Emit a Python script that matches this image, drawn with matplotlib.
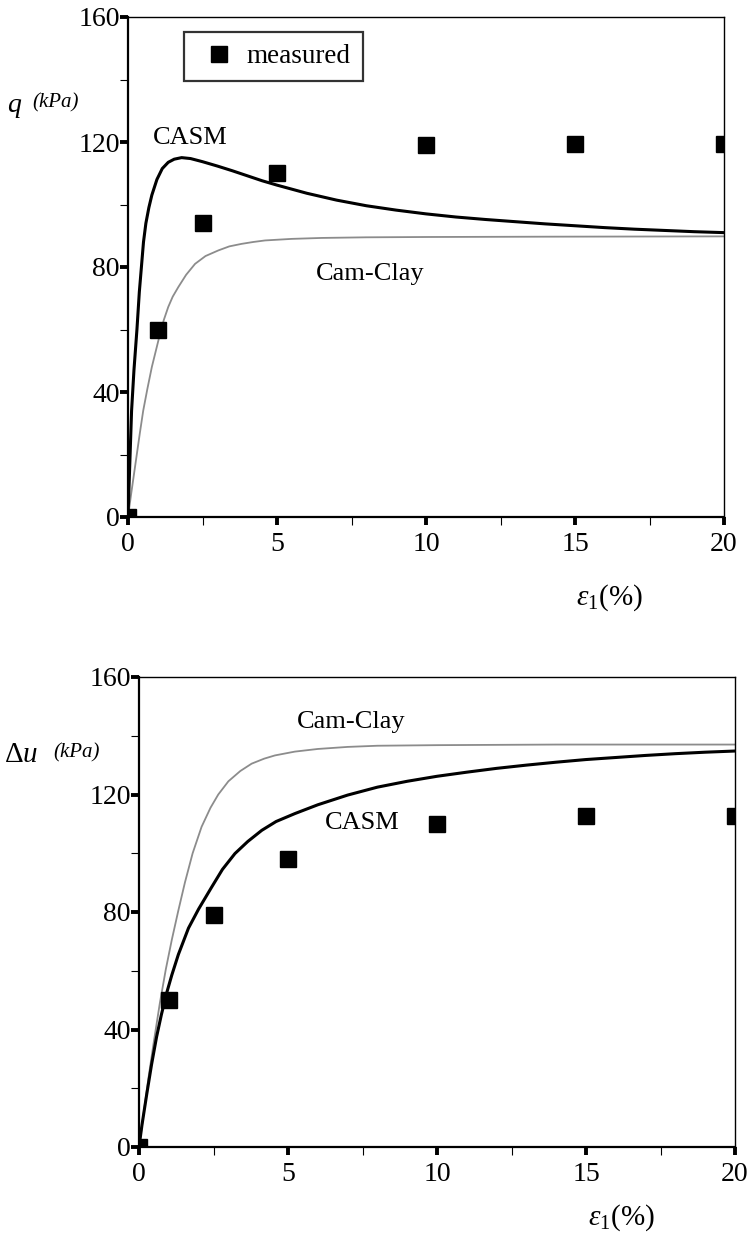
import matplotlib
matplotlib.use("Agg")
import matplotlib.pyplot as plt
from matplotlib.ticker import MultipleLocator

plt.rcParams['font.family'] = ['Liberation Serif', 'DejaVu Serif']
plt.rcParams['mathtext.fontset'] = 'custom'
plt.rcParams['mathtext.rm'] = 'Liberation Serif'
plt.rcParams['mathtext.it'] = 'Liberation Serif:italic'

# ---------------- data ----------------
meas_x = [0, 1, 2.5, 5, 10, 15, 20]
meas_q = [0, 60, 94, 110, 119, 119.5, 119.5]
meas_u = [0, 50, 79, 98, 110, 112.6, 112.6]

casm_q_x = [0, 0.06, 0.12, 0.2, 0.3, 0.38, 0.45, 0.52, 0.6, 0.7, 0.8, 0.97,
            1.15, 1.35, 1.55, 1.8, 2.1, 2.5, 3, 3.5, 4, 4.5, 5, 6, 7, 8, 9,
            10, 11, 12, 13, 14, 15, 16, 17, 18, 19, 20]
casm_q_y = [0, 17, 34, 47, 60, 72, 80, 88, 94, 99, 103, 108,
            111.5, 113.5, 114.5, 115, 114.7, 113.7, 112.3, 110.8, 109.2,
            107.6, 106.2, 103.6, 101.4, 99.6, 98.2,
            97, 96, 95.2, 94.5, 93.8, 93.2, 92.6, 92.1, 91.7, 91.3, 91]

cc_q_x = [0, 0.1, 0.25, 0.4, 0.51, 0.65, 0.8, 1.02, 1.2, 1.35, 1.5, 1.69,
          1.95, 2.25, 2.6, 3.03, 3.4, 3.81, 4.2, 4.6, 5.5, 6.5, 8, 10, 14, 20]
cc_q_y = [0, 7, 17, 27, 34, 41, 48, 56.5, 63, 67.2, 70.5, 73.6,
          77.5, 81, 83.5, 85.3, 86.6, 87.4, 88, 88.5, 89, 89.3, 89.5, 89.6,
          89.7, 89.8]

casm_u_x = [0, 0.1, 0.26, 0.42, 0.59, 0.75, 0.93, 1.1, 1.32, 1.66, 2.0, 2.44,
            2.8, 3.22, 3.65, 4.12, 4.6, 5.23, 6, 7, 8, 9, 10, 11, 12, 13, 14,
            15, 16, 17, 18, 19, 20]
casm_u_y = [0, 7.5, 18, 28, 37.5, 45, 52.5, 58.5, 65.5, 74.5, 81, 88.5,
            94.5, 99.9, 104, 107.8, 110.8, 113.5, 116.5, 119.8, 122.5, 124.5,
            126.2, 127.6, 128.9, 130, 131, 131.9, 132.6, 133.3, 133.9, 134.4,
            134.8]

cc_u_x = [0, 0.15, 0.31, 0.5, 0.7, 0.9, 1.1, 1.32, 1.54, 1.8, 2.1, 2.4, 2.66,
          3.0, 3.4, 3.78, 4.2, 4.56, 5.23, 6, 7, 8, 10, 14, 20]
cc_u_y = [0, 11, 23, 36, 49, 60.5, 70.5, 80.5, 90, 100, 109, 115.5, 120,
          124.5, 128, 130.5, 132.2, 133.3, 134.6, 135.5, 136.2, 136.6,
          136.8, 137, 137]

x_ticks = [0, 5, 10, 15, 20]
y_ticks = [0, 40, 80, 120, 160]

W, H = 752, 1244
fig = plt.figure(figsize=(W / 100, H / 100), dpi=100)


def px_rect(l, t, r, b):
    return [l / W, 1 - b / H, (r - l) / W, (b - t) / H]


def style(ax):
    ax.set_xlim(0, 20)
    ax.set_ylim(0, 160)
    ax.set_xticks(x_ticks)
    ax.set_yticks(y_ticks)
    ax.xaxis.set_minor_locator(MultipleLocator(2.5))
    ax.yaxis.set_minor_locator(MultipleLocator(20))
    ax.tick_params(which='major', direction='out', length=6, width=2.8,
                   labelsize=20, colors='black')
    ax.tick_params(which='minor', direction='out', length=6, width=0.8)
    ax.yaxis.set_tick_params(which='major', pad=0)
    ax.xaxis.set_tick_params(which='major', pad=5)
    for s in ['left', 'bottom']:
        ax.spines[s].set_linewidth(1.6)
    for s in ['top', 'right']:
        ax.spines[s].set_linewidth(1.0)


# ---------------- top ----------------
ax1 = fig.add_axes(px_rect(128, 17, 724, 517))
style(ax1)
ax1.plot(cc_q_x, cc_q_y, color='#8c8c8c', lw=1.3)
ax1.plot(casm_q_x, casm_q_y, color='black', lw=2.2)
ax1.plot(meas_x, meas_q, 's', color='black', ms=11, label='measured')
leg = ax1.legend(loc='upper left', bbox_to_anchor=(0.094, 0.970),
                 fancybox=False, edgecolor='black', fontsize=19.5,
                 handletextpad=0.15, borderpad=0.45, handlelength=1.7,
                 borderaxespad=0)
leg.get_frame().set_linewidth(1.6)
ax1.text(0.84, 119.4, 'CASM', fontsize=19, va='baseline')
ax1.text(6.3, 75.9, 'Cam-Clay', fontsize=19, va='baseline')

fig.text(7 / W, 1 - 106 / H, 'q', fontsize=20, style='italic', va='center')
fig.text(32 / W, 1 - 103 / H, '(kPa)', fontsize=15, style='italic',
         va='center')
fig.text(576 / W, 1 - 598 / H, r'$\varepsilon_{\mathrm{1}}$(%)', fontsize=21,
         va='center')

# ---------------- bottom ----------------
ax2 = fig.add_axes(px_rect(139, 677, 735, 1147))
style(ax2)
ax2.plot(cc_u_x, cc_u_y, color='#8c8c8c', lw=1.3)
ax2.plot(casm_u_x, casm_u_y, color='black', lw=2.2)
ax2.plot(meas_x, meas_u, 's', color='black', ms=11)
ax2.text(5.29, 142.5, 'Cam-Clay', fontsize=19, va='baseline')
ax2.text(6.24, 108.4, 'CASM', fontsize=19, va='baseline')

fig.text(4 / W, 1 - 755 / H, r'$\mathit{\Delta u}$', fontsize=21, va='center')
fig.text(53 / W, 1 - 753 / H, '(kPa)', fontsize=15, style='italic',
         va='center')
fig.text(588 / W, 1 - 1218 / H, r'$\varepsilon_{\mathrm{1}}$(%)', fontsize=21,
         va='center')

fig.savefig('out.png', dpi=100)
